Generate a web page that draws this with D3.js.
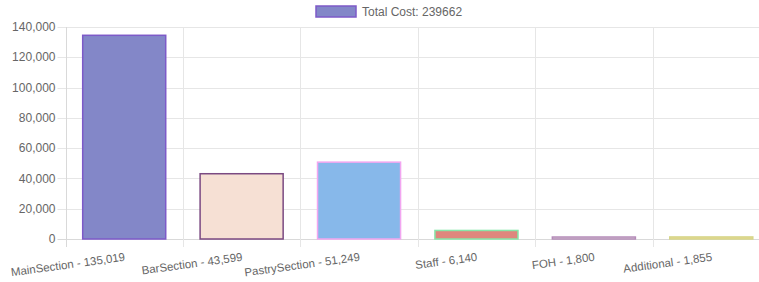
<!DOCTYPE html>
<html>
<head>
<meta charset="utf-8">
<script src="https://cdn.jsdelivr.net/npm/d3@7"></script>
<style>
  body { margin: 0; background: #fff; overflow: hidden; }
  svg { display: block; font-family: "Liberation Sans", Arial, sans-serif; }
</style>
</head>
<body>
<div id="chart"></div>
<script>
// === Cost breakdown bar chart ===

const categories = ['MainSection', 'BarSection', 'PastrySection', 'Staff', 'FOH', 'Additional'];
const costs = [135019, 43599, 51249, 6140, 1800, 1855];
const fillColors = ['#8387c8', '#f6e0d4', '#87b8ea', '#df877d', '#e2dfdb', '#efd990'];
const borderColors = ['#7d5ac8', '#7b4a82', '#f2a6f0', '#86e6a8', '#b48ab8', '#d6d68a'];
const yTicks = [0, 20000, 40000, 60000, 80000, 100000, 120000, 140000];

const VIEW_W = 759;
const VIEW_H = 282;
const CHART_W = 772; // chart canvas is a bit wider than the window, right edge gets clipped
const margin = { top: 27, left: 65.5, bottom: 43 };
const TICK_LEN = 8;

const total = d3.sum(costs);
const fmt = d3.format(',');

const svg = d3.select('#chart')
  .append('svg')
  .attr('width', VIEW_W)
  .attr('height', VIEW_H);

const x = d3.scaleBand()
  .domain(categories)
  .range([margin.left, CHART_W - 2])
  .paddingInner(0.28)
  .paddingOuter(0.14);

const y = d3.scaleLinear()
  .domain([0, 140000])
  .range([VIEW_H - margin.bottom, margin.top]);

const step = x.step();
const plotLeft = margin.left;
const plotRight = CHART_W - 2;

// Horizontal grid + y labels
const grid = svg.append('g').attr('class', 'grid');
for (const t of yTicks) {
  grid.append('line')
    .attr('x1', plotLeft - TICK_LEN).attr('x2', plotRight)
    .attr('y1', Math.round(y(t)) + 0.5).attr('y2', Math.round(y(t)) + 0.5)
    .attr('stroke', t === 0 ? '#d9d9d9' : '#e6e6e6')
    .attr('stroke-width', 1);
  svg.append('text')
    .attr('x', plotLeft - 10).attr('y', y(t))
    .attr('dy', '0.35em')
    .attr('text-anchor', 'end')
    .attr('fill', '#666')
    .attr('font-size', '12px')
    .text(fmt(t));
}

// Vertical grid at category boundaries
for (let i = 0; i <= categories.length; i++) {
  const gx = Math.round(plotLeft + i * step) + 0.5;
  grid.append('line')
    .attr('x1', gx).attr('x2', gx)
    .attr('y1', y(140000)).attr('y2', y(0) + TICK_LEN)
    .attr('stroke', i === 0 ? '#d9d9d9' : '#e6e6e6')
    .attr('stroke-width', 1);
}

// Bars
const bars = svg.append('g').attr('class', 'bars');
categories.forEach((c, i) => {
  const x0 = x(c);
  const y0 = y(costs[i]);
  bars.append('rect')
    .attr('x', x0 + 0.75).attr('y', y0 + 0.75)
    .attr('width', x.bandwidth() - 1.5)
    .attr('height', Math.max(y(0) - y0 - 0.75, 0))
    .attr('fill', fillColors[i])
    .attr('stroke', borderColors[i])
    .attr('stroke-width', 1.5);
});

// X labels (rotated, right end anchored on category center)
categories.forEach((c, i) => {
  const cx = x(c) + x.bandwidth() / 2;
  svg.append('text')
    .attr('transform', `translate(${cx},${y(0) + 12.5}) rotate(-7.8)`)
    .attr('dy', '0.8em')
    .attr('text-anchor', 'end')
    .attr('fill', '#666')
    .attr('font-size', '11.5px')
    .text(`${c} - ${fmt(costs[i])}`);
});

// Legend
const legend = svg.append('g').attr('class', 'legend');
const legendText = `Total Cost: ${total}`;
const boxW = 40;
const textW = 96;
const legendX = CHART_W / 2 - (boxW + 6 + textW) / 2 + 1;
legend.append('rect')
  .attr('x', legendX).attr('y', 6)
  .attr('width', boxW).attr('height', 11)
  .attr('fill', fillColors[0])
  .attr('stroke', borderColors[0])
  .attr('stroke-width', 1.5);
legend.append('text')
  .attr('x', legendX + boxW + 6).attr('y', 12)
  .attr('dy', '0.35em')
  .attr('fill', '#666')
  .attr('font-size', '12px')
  .text(legendText);
</script>
</body>
</html>
